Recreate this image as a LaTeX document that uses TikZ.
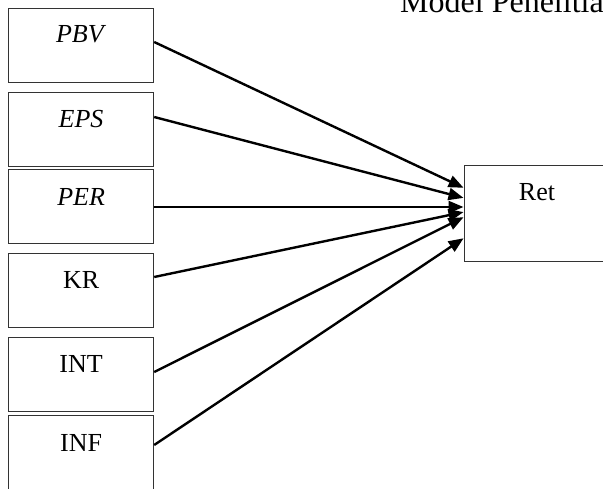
\documentclass[tikz,border=0pt]{standalone}
\usepackage{fontspec}
\setmainfont{Liberation Serif}
\usetikzlibrary{arrows.meta,calc}
\tikzset{
  varbox/.style={draw=black!80, line width=1.2pt, rectangle, minimum width=145pt, minimum height=74pt, inner sep=0pt, anchor=north west},
  boxtext/.style={anchor=base, inner sep=0pt, font=\fontsize{26}{30}\selectfont},
  conn/.style={line width=2.4pt, -{Triangle[length=15pt,width=12pt]}, shorten >=0.5pt},
}
\begin{document}
\begin{tikzpicture}[x=1pt,y=-1pt]
\useasboundingbox (0,0) rectangle (603,489);
% title
\node[anchor=base west, inner sep=0pt, font=\fontsize{32}{36}\selectfont] (title) at (400,13) {Model Penelitia};
% left boxes
\node[varbox] (pbv) at (8,8) {};
\node[varbox] (eps) at (8,92) {};
\node[varbox] (per) at (8,169) {};
\node[varbox] (kr) at (8,253) {};
\node[varbox] (int) at (8,337) {};
\node[varbox, minimum height=75pt] (inf) at (8,414.5) {};
% right box
\node[varbox, minimum width=160pt, minimum height=96pt] (ret) at (464,165) {};
% texts
\node[boxtext] (tpbv) at ($(pbv.north)+(0,35)$) {\textit{PBV}};
\node[boxtext] (teps) at ($(eps.north)+(0,36)$) {\textit{EPS}};
\node[boxtext] (tper) at ($(per.north)+(0,37)$) {\textit{PER}};
\node[boxtext] (tkr) at ($(kr.north)+(0,36)$) {KR};
\node[boxtext] (tint) at ($(int.north)+(0,36)$) {INT};
\node[boxtext] (tinf) at ($(inf.north)+(0,36.5)$) {INF};
\node[boxtext] (tret) at (537,201) {Ret};
% connector end points
\coordinate (s1) at (pbv.east |- 0,42);
\coordinate (s2) at (eps.east |- 0,117);
\coordinate (s3) at (per.east |- 0,207);
\coordinate (s4) at (kr.east |- 0,277);
\coordinate (s5) at (int.east |- 0,372);
\coordinate (s6) at (inf.east |- 0,445);
\coordinate (e1) at (ret.west |- 0,188);
\coordinate (e2) at (ret.west |- 0,198);
\coordinate (e3) at (ret.west |- 0,207);
\coordinate (e4) at (ret.west |- 0,212);
\coordinate (e5) at (ret.west |- 0,217);
\coordinate (e6) at (ret.west |- 0,238);
\draw[conn] (s1) -- (e1);
\draw[conn] (s2) -- (e2);
\draw[conn] (s3) -- (e3);
\draw[conn] (s4) -- (e4);
\draw[conn] (s5) -- (e5);
\draw[conn] (s6) -- (e6);
\end{tikzpicture}
\end{document}
